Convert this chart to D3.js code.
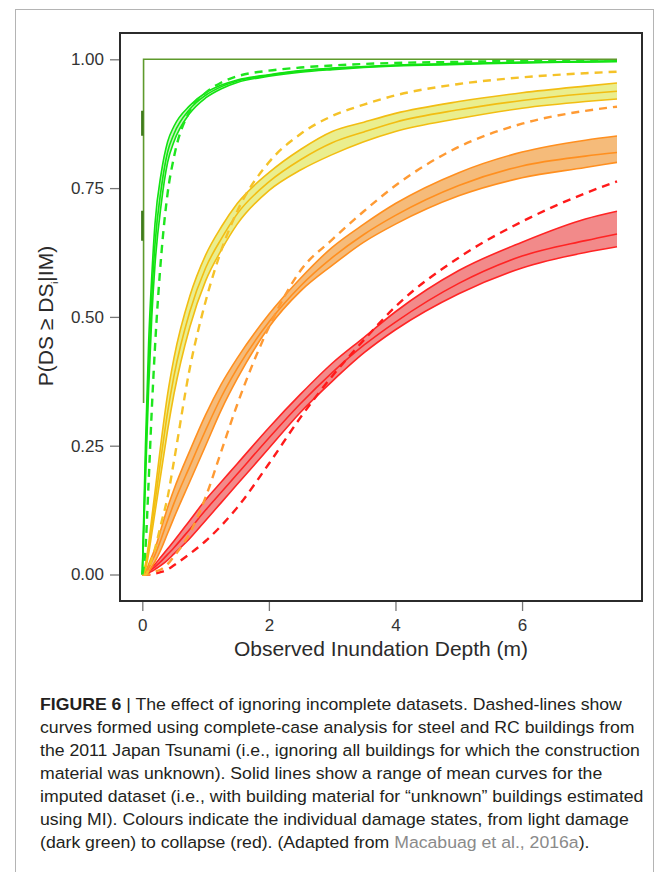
<!DOCTYPE html>
<html>
<head>
<meta charset="utf-8">
<script src="https://cdn.jsdelivr.net/npm/d3@7"></script>
<style>
  body { margin: 0; background: #fff; }
  svg { display: block; }
</style>
</head>
<body>
<div id="chart"></div>
<script>

// observed inundation depth (m) at which the curves were read
var depth = [0, 0.05, 0.1, 0.15, 0.2, 0.3, 0.4, 0.5, 0.75, 1, 1.25, 1.5, 2, 2.5, 3, 3.5, 4, 5, 6, 7, 7.5];

// slight damage (bright green)
var greenHi   = [0, 0.25, 0.45, 0.58, 0.68, 0.78, 0.84, 0.87, 0.91, 0.935, 0.95, 0.96, 0.97, 0.978, 0.983, 0.986, 0.989, 0.992, 0.994, 0.996, 0.997];
var greenMid  = [0, 0.21, 0.40, 0.54, 0.64, 0.75, 0.82, 0.855, 0.903, 0.93, 0.947, 0.958, 0.969, 0.977, 0.982, 0.985, 0.988, 0.991, 0.994, 0.995, 0.996];
var greenLo   = [0, 0.18, 0.36, 0.50, 0.60, 0.72, 0.80, 0.84, 0.895, 0.925, 0.943, 0.955, 0.967, 0.975, 0.98, 0.984, 0.987, 0.99, 0.993, 0.995, 0.996];
var greenDash = [0, 0.05, 0.18, 0.32, 0.44, 0.62, 0.74, 0.81, 0.90, 0.935, 0.955, 0.967, 0.978, 0.984, 0.988, 0.991, 0.993, 0.995, 0.997, 0.998, 0.998];

// yellow
var yellowHi   = [0, 0.02, 0.06, 0.11, 0.16, 0.26, 0.35, 0.42, 0.54, 0.62, 0.675, 0.72, 0.78, 0.825, 0.86, 0.878, 0.895, 0.918, 0.935, 0.948, 0.954];
var yellowMid  = [0, 0.015, 0.05, 0.095, 0.14, 0.23, 0.315, 0.385, 0.51, 0.595, 0.652, 0.70, 0.762, 0.805, 0.838, 0.859, 0.878, 0.902, 0.92, 0.933, 0.938];
var yellowLo   = [0, 0.01, 0.04, 0.08, 0.12, 0.20, 0.28, 0.35, 0.48, 0.57, 0.63, 0.68, 0.745, 0.785, 0.815, 0.84, 0.86, 0.885, 0.905, 0.918, 0.923];
var yellowDash = [0, 0, 0.01, 0.03, 0.05, 0.10, 0.15, 0.22, 0.40, 0.53, 0.63, 0.705, 0.80, 0.855, 0.89, 0.912, 0.93, 0.952, 0.965, 0.973, 0.976];

// orange
var orangeHi   = [0, 0.005, 0.02, 0.035, 0.05, 0.09, 0.13, 0.165, 0.24, 0.31, 0.37, 0.42, 0.505, 0.575, 0.635, 0.68, 0.72, 0.78, 0.82, 0.843, 0.851];
var orangeMid  = [0, 0.002, 0.012, 0.025, 0.038, 0.07, 0.105, 0.138, 0.21, 0.28, 0.345, 0.40, 0.49, 0.56, 0.615, 0.66, 0.697, 0.755, 0.793, 0.812, 0.819];
var orangeLo   = [0, 0, 0.005, 0.015, 0.025, 0.05, 0.08, 0.11, 0.18, 0.25, 0.32, 0.38, 0.48, 0.55, 0.60, 0.645, 0.68, 0.735, 0.77, 0.79, 0.80];
var orangeDash = [0, 0, 0, 0.002, 0.005, 0.01, 0.02, 0.035, 0.08, 0.15, 0.24, 0.33, 0.48, 0.59, 0.65, 0.705, 0.755, 0.83, 0.875, 0.90, 0.908];

// collapse (red)
var redHi   = [0, 0.003, 0.008, 0.014, 0.02, 0.035, 0.05, 0.065, 0.105, 0.145, 0.18, 0.215, 0.285, 0.35, 0.41, 0.46, 0.51, 0.59, 0.645, 0.69, 0.705];
var redMid  = [0, 0.002, 0.005, 0.01, 0.015, 0.026, 0.039, 0.052, 0.088, 0.125, 0.16, 0.195, 0.265, 0.332, 0.392, 0.445, 0.49, 0.565, 0.618, 0.648, 0.661];
var redLo   = [0, 0.001, 0.003, 0.006, 0.01, 0.018, 0.028, 0.04, 0.07, 0.105, 0.14, 0.175, 0.245, 0.315, 0.375, 0.43, 0.475, 0.545, 0.595, 0.625, 0.636];
var redDash = [0, 0, 0, 0.001, 0.002, 0.005, 0.01, 0.018, 0.04, 0.065, 0.095, 0.13, 0.215, 0.305, 0.385, 0.455, 0.52, 0.615, 0.685, 0.74, 0.763];

// light damage (dark green) - practically a step at zero depth
var darkX     = [0.02, 0.02, 7.5];
var darkSolid = [0.333, 1, 1];
var darkDashX = [0, 0];
var darkDashY = [0.9, 0.62];

var xTicks = [0, 2, 4, 6];
var yTicks = [0, 0.25, 0.5, 0.75, 1];

var captionLines = [
    [["FIGURE 6", "b"], [" | The effect of ignoring incomplete datasets. Dashed-lines show", ""]],
    [["curves formed using complete-case analysis for steel and RC buildings from", ""]],
    [["the 2011 Japan Tsunami (i.e., ignoring all buildings for which the construction", ""]],
    [["material was unknown). Solid lines show a range of mean curves for the", ""]],
    [["imputed dataset (i.e., with building material for \u201cunknown\u201d buildings estimated", ""]],
    [["using MI). Colours indicate the individual damage states, from light damage", ""]],
    [["(dark green) to collapse (red). (Adapted from ", ""], ["Macabuag et al., 2016a", "link"], [").", ""]]
];

var width = 668,
    height = 872,
    frame = {left: 120, top: 33, right: 642, bottom: 601};

var svg = d3.select("#chart").append("svg")
    .attr("width", width)
    .attr("height", height);

// figure box
svg.append("rect")
    .attr("x", 15.5).attr("y", 9.5)
    .attr("width", 638).attr("height", 900)
    .attr("fill", "none")
    .attr("stroke", "#b4b4b4");

var x = d3.scaleLinear().domain([0, 7.5]).range([142.3, 617]),
    y = d3.scaleLinear().domain([0, 1]).range([574.5, 59.3]);

function rows(ys) {
    return depth.map(function(d, i) { return {x: d, y: ys[i]}; });
}

var line = d3.line()
    .x(function(d) { return x(d.x); })
    .y(function(d) { return y(d.y); })
    .curve(d3.curveMonotoneX);

var band = d3.area()
    .x(function(d) { return x(d.x); })
    .y0(function(d) { return y(d.lo); })
    .y1(function(d) { return y(d.hi); })
    .curve(d3.curveMonotoneX);

var states = [
    {hi: redHi, mid: redMid, lo: redLo, dash: redDash, stroke: "#ff2424", dashStroke: "#ff1a1a", fill: "#f28a8a"},
    {hi: orangeHi, mid: orangeMid, lo: orangeLo, dash: orangeDash, stroke: "#ff8f1f", dashStroke: "#ff9a33", fill: "#f5bb7a"},
    {hi: yellowHi, mid: yellowMid, lo: yellowLo, dash: yellowDash, stroke: "#f2bd12", dashStroke: "#f5c228", fill: "#eaee8e"},
    {hi: greenHi, mid: greenMid, lo: greenLo, dash: greenDash, stroke: "#12e312", dashStroke: "#1ee61e", fill: "#c9f5c0"}
];

var g = svg.append("g").attr("class", "curves");

states.forEach(function(s) {
    var bandData = depth.map(function(d, i) { return {x: d, lo: s.lo[i], hi: s.hi[i]}; });
    g.append("path")
        .attr("d", band(bandData))
        .attr("fill", s.fill)
        .attr("stroke", "none");
    [s.hi, s.mid, s.lo].forEach(function(v) {
        g.append("path")
            .attr("d", line(rows(v)))
            .attr("fill", "none")
            .attr("stroke", s.stroke)
            .attr("stroke-width", 1.6);
    });
});

states.forEach(function(s) {
    g.append("path")
        .attr("d", line(rows(s.dash)))
        .attr("fill", "none")
        .attr("stroke", s.dashStroke)
        .attr("stroke-width", 2.4)
        .attr("stroke-dasharray", "8,6");
});

var lineLinear = d3.line()
    .x(function(d) { return x(d[0]); })
    .y(function(d) { return y(d[1]); });

g.append("path")
    .attr("d", lineLinear(d3.zip(darkX, darkSolid)))
    .attr("fill", "none")
    .attr("stroke", "#5e9a2c")
    .attr("stroke-width", 1.6);

g.append("path")
    .attr("d", lineLinear(d3.zip(darkDashX, darkDashY)))
    .attr("fill", "none")
    .attr("stroke", "#3f7a1c")
    .attr("stroke-width", 2.4)
    .attr("stroke-dasharray", "25,75,30");

// plot frame
svg.append("rect")
    .attr("x", frame.left).attr("y", frame.top)
    .attr("width", frame.right - frame.left)
    .attr("height", frame.bottom - frame.top)
    .attr("fill", "none")
    .attr("stroke", "#2b2b2b")
    .attr("stroke-width", 2);

var font = "'Liberation Sans', Arial, Helvetica, sans-serif";

var yAxis = svg.append("g")
    .attr("transform", "translate(" + (frame.left - 1) + ",0)")
    .call(d3.axisLeft(y).tickValues(yTicks).tickFormat(d3.format(".2f")).tickSize(9).tickPadding(6));

var xAxis = svg.append("g")
    .attr("transform", "translate(0," + (frame.bottom + 1) + ")")
    .call(d3.axisBottom(x).tickValues(xTicks).tickFormat(d3.format("d")).tickSize(9).tickPadding(8));

[xAxis, yAxis].forEach(function(a) {
    a.select(".domain").remove();
    a.selectAll(".tick line").attr("stroke", "#777").attr("stroke-width", 1.3);
    a.selectAll(".tick text")
        .attr("fill", "#333")
        .style("font-family", font)
        .style("font-size", "17px");
});

svg.append("text")
    .attr("x", (frame.left + frame.right) / 2)
    .attr("y", 656)
    .attr("text-anchor", "middle")
    .attr("fill", "#2b2b2b")
    .style("font-family", font)
    .style("font-size", "21px")
    .text("Observed Inundation Depth (m)");

var ylab = svg.append("text")
    .attr("transform", "translate(53,316) rotate(-90)")
    .attr("text-anchor", "middle")
    .attr("fill", "#2b2b2b")
    .style("font-family", font)
    .style("font-size", "21px");
ylab.append("tspan").text("P(DS \u2265 DS");
ylab.append("tspan").attr("baseline-shift", "sub").style("font-size", "9px").text("i");
ylab.append("tspan").text("|IM)");

// caption
var cap = svg.append("g").attr("class", "caption");
var capText = captionLines.map(function(parts, i) {
    var t = cap.append("text")
        .attr("x", 0)
        .attr("y", 710 + i * 23)
        .attr("fill", "#231f20")
        .style("font-family", font)
        .style("font-size", "16.5px");
    parts.forEach(function(p) {
        var ts = t.append("tspan").text(p[0]);
        if (p[1] === "b") ts.style("font-weight", "bold");
        if (p[1] === "link") ts.attr("fill", "#8a8a8a");
    });
    return t;
});
var widest = capText[4].node().getComputedTextLength();
cap.attr("transform", "translate(40,0) scale(" + (604 / widest) + ",1)");

</script>
</body>
</html>
